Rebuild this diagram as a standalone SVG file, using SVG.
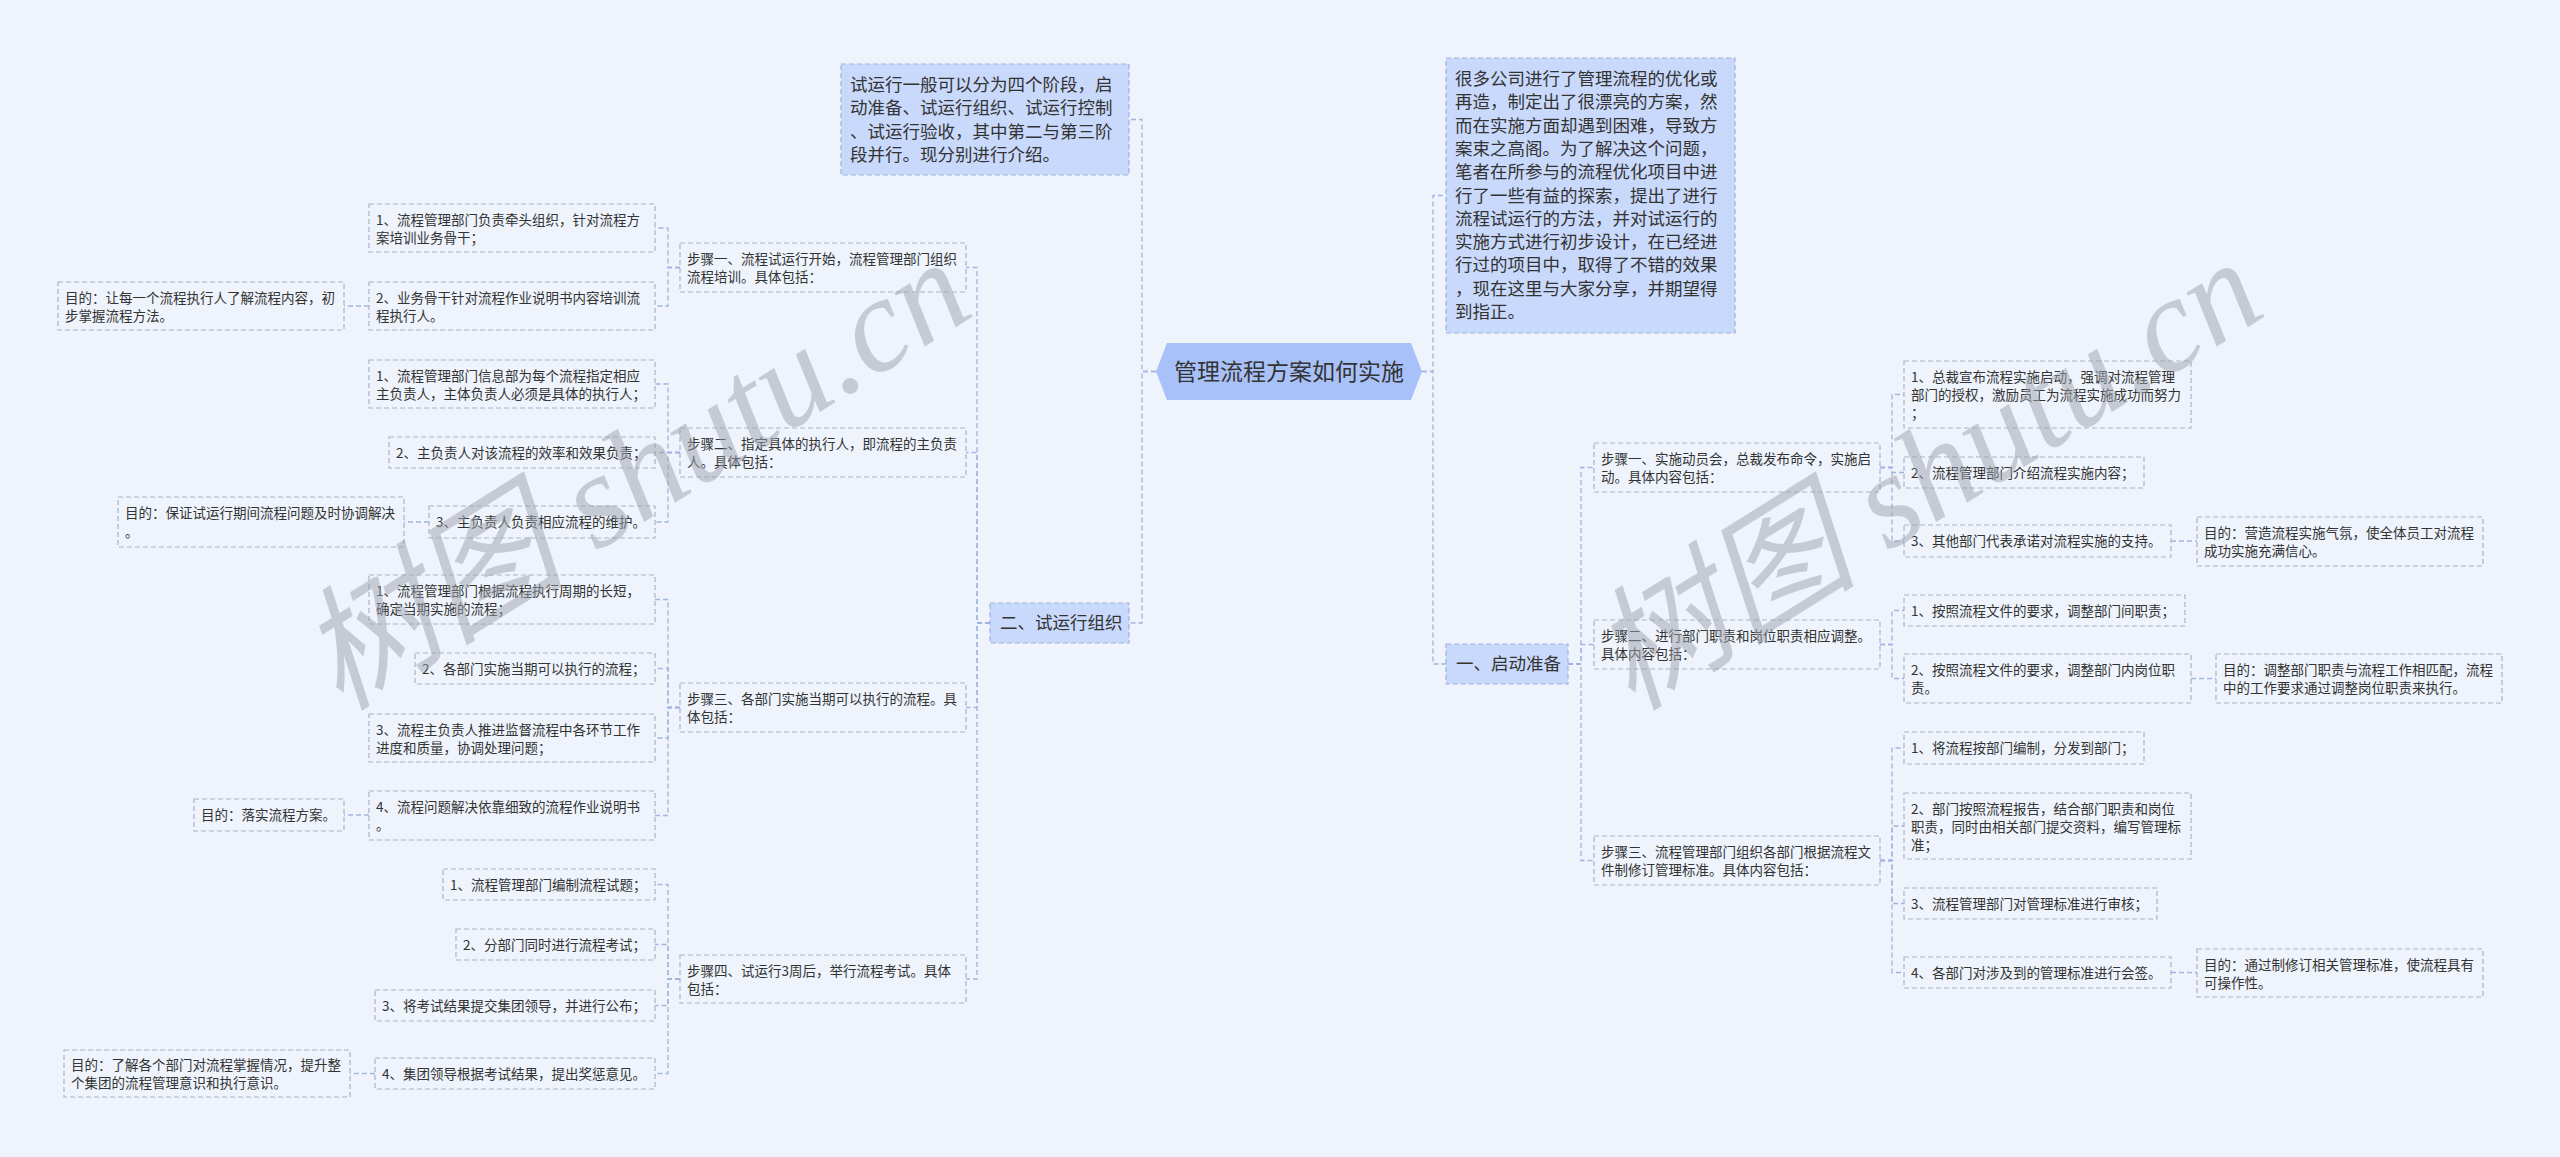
<svg xmlns="http://www.w3.org/2000/svg" width="2560" height="1157" viewBox="0 0 2560 1157">
<style>
.bg{fill:#eef3fc}
.box{fill:none;stroke:#aab4c9;stroke-width:1.2;stroke-dasharray:5 3}
.hl{fill:#c9d9fb;stroke:#9fb3e0;stroke-width:1.2;stroke-dasharray:5 3}
.root{fill:#a8c1f8}
.t{font-family:"Noto Sans CJK SC","Noto Sans",sans-serif;font-size:13.5px;fill:#333}
.tl{font-family:"Noto Sans CJK SC","Noto Sans",sans-serif;font-size:17.5px;fill:#333}
.tr{font-family:"Noto Sans CJK SC","Noto Sans",sans-serif;font-size:23px;fill:#333}
.c{fill:none;stroke:#a2b4e0;stroke-width:1.3;stroke-dasharray:5 3}
.wm{font-family:"Liberation Serif","Noto Sans CJK SC",serif;font-style:italic;font-size:134px;fill:#9ea3ad;opacity:0.5}
</style>
<rect class="bg" x="0" y="0" width="2560" height="1157"/>

<g id="connectors">
<path class="c" d="M1156,371.5 H1142 V119.5 H1129"/>
<path class="c" d="M1156,371.5 H1142 V623 H1129"/>
<path class="c" d="M990,623 H977 V267.5 H966"/>
<path class="c" d="M990,623 H977 V452.5 H966"/>
<path class="c" d="M990,623 H977 V707.5 H966"/>
<path class="c" d="M990,623 H977 V979 H966"/>
<path class="c" d="M680,267.5 H668 V228 H655"/>
<path class="c" d="M680,267.5 H668 V306 H655"/>
<path class="c" d="M680,452.5 H668 V384 H655"/>
<path class="c" d="M680,452.5 H668 V452.5 H655"/>
<path class="c" d="M680,452.5 H668 V522 H655"/>
<path class="c" d="M680,707.5 H668 V599.5 H655"/>
<path class="c" d="M680,707.5 H668 V668.5 H655"/>
<path class="c" d="M680,707.5 H668 V738 H655"/>
<path class="c" d="M680,707.5 H668 V815.5 H655"/>
<path class="c" d="M680,979 H668 V884.5 H655"/>
<path class="c" d="M680,979 H668 V944.5 H655"/>
<path class="c" d="M680,979 H668 V1005.5 H655"/>
<path class="c" d="M680,979 H668 V1073.5 H655"/>
<path class="c" d="M369,306 H344"/>
<path class="c" d="M429,522 H404"/>
<path class="c" d="M369,815 H344"/>
<path class="c" d="M375,1073.5 H350"/>
<path class="c" d="M1422,371.5 H1433 V195.5 H1446"/>
<path class="c" d="M1422,371.5 H1433 V664 H1446"/>
<path class="c" d="M1568,664 H1581 V467.5 H1594"/>
<path class="c" d="M1568,664 H1581 V644.5 H1594"/>
<path class="c" d="M1568,664 H1581 V860.5 H1594"/>
<path class="c" d="M1880,467.5 H1892 V394.5 H1904"/>
<path class="c" d="M1880,467.5 H1892 V472.5 H1904"/>
<path class="c" d="M1880,467.5 H1892 V541 H1904"/>
<path class="c" d="M1880,644.5 H1892 V610.5 H1904"/>
<path class="c" d="M1880,644.5 H1892 V678.5 H1904"/>
<path class="c" d="M1880,860.5 H1892 V748 H1904"/>
<path class="c" d="M1880,860.5 H1892 V826 H1904"/>
<path class="c" d="M1880,860.5 H1892 V903.5 H1904"/>
<path class="c" d="M1880,860.5 H1892 V972.5 H1904"/>
<path class="c" d="M2171,541 H2197"/>
<path class="c" d="M2191,678.5 H2216"/>
<path class="c" d="M2171,972.5 H2197"/>
</g>

<g id="root">
<polygon class="root" points="1156,371.5 1167,343 1411,343 1422,371.5 1411,400 1167,400"/>
<text class="tr" x="1289" y="379.5" text-anchor="middle">管理流程方案如何实施</text>
</g>

<g id="intro-left">
<rect class="hl" x="841" y="64" width="288" height="111"/>
<text class="tl"><tspan x="850" y="91">试运行一般可以分为四个阶段，启</tspan><tspan x="850" y="114.3">动准备、试运行组织、试运行控制</tspan><tspan x="850" y="137.6">、试运行验收，其中第二与第三阶</tspan><tspan x="850" y="161">段并行。现分别进行介绍。</tspan></text>
</g>

<g id="intro-right">
<rect class="hl" x="1446" y="58" width="289" height="275"/>
<text class="tl"><tspan x="1455" y="85">很多公司进行了管理流程的优化或</tspan><tspan x="1455" y="108.3">再造，制定出了很漂亮的方案，然</tspan><tspan x="1455" y="131.6">而在实施方面却遇到困难，导致方</tspan><tspan x="1455" y="154.9">案束之高阁。为了解决这个问题，</tspan><tspan x="1455" y="178.2">笔者在所参与的流程优化项目中进</tspan><tspan x="1455" y="201.5">行了一些有益的探索，提出了进行</tspan><tspan x="1455" y="224.8">流程试运行的方法，并对试运行的</tspan><tspan x="1455" y="248.1">实施方式进行初步设计，在已经进</tspan><tspan x="1455" y="271.4">行过的项目中，取得了不错的效果</tspan><tspan x="1455" y="294.7">，现在这里与大家分享，并期望得</tspan><tspan x="1455" y="318">到指正。</tspan></text>
</g>

<g id="branch-2">
<rect class="hl" x="990" y="603" width="139" height="40"/>
<text class="tl" x="1000" y="629">二、试运行组织</text>
</g>

<g id="branch-1">
<rect class="hl" x="1446" y="644" width="122" height="40"/>
<text class="tl" x="1456" y="670">一、启动准备</text>
</g>

<g id="step-l1">
<rect class="box" x="680" y="243" width="286" height="49"/>
<text class="t"><tspan x="687" y="264">步骤一、流程试运行开始，流程管理部门组织</tspan><tspan x="687" y="282">流程培训。具体包括：</tspan></text>
</g>
<g id="step-l2">
<rect class="box" x="680" y="428" width="286" height="49"/>
<text class="t"><tspan x="687" y="449">步骤二、指定具体的执行人，即流程的主负责</tspan><tspan x="687" y="467">人。具体包括：</tspan></text>
</g>
<g id="step-l3">
<rect class="box" x="680" y="683" width="286" height="49"/>
<text class="t"><tspan x="687" y="704">步骤三、各部门实施当期可以执行的流程。具</tspan><tspan x="687" y="722">体包括：</tspan></text>
</g>
<g id="step-l4">
<rect class="box" x="680" y="955" width="286" height="48"/>
<text class="t"><tspan x="687" y="976">步骤四、试运行3周后，举行流程考试。具体</tspan><tspan x="687" y="994">包括：</tspan></text>
</g>

<g id="l1a">
<rect class="box" x="369" y="204" width="286" height="48"/>
<text class="t"><tspan x="376" y="225">1、流程管理部门负责牵头组织，针对流程方</tspan><tspan x="376" y="243">案培训业务骨干；</tspan></text>
</g>
<g id="l1b">
<rect class="box" x="369" y="282" width="286" height="48"/>
<text class="t"><tspan x="376" y="303">2、业务骨干针对流程作业说明书内容培训流</tspan><tspan x="376" y="321">程执行人。</tspan></text>
</g>
<g id="p1">
<rect class="box" x="58" y="282" width="286" height="48"/>
<text class="t"><tspan x="65" y="303">目的：让每一个流程执行人了解流程内容，初</tspan><tspan x="65" y="321">步掌握流程方法。</tspan></text>
</g>
<g id="l2a">
<rect class="box" x="369" y="360" width="286" height="48"/>
<text class="t"><tspan x="376" y="381">1、流程管理部门信息部为每个流程指定相应</tspan><tspan x="376" y="399">主负责人，主体负责人必须是具体的执行人；</tspan></text>
</g>
<g id="l2b">
<rect class="box" x="389" y="437" width="266" height="31"/>
<text class="t" x="396" y="457.5">2、主负责人对该流程的效率和效果负责；</text>
</g>
<g id="l2c">
<rect class="box" x="429" y="506" width="226" height="32"/>
<text class="t" x="436" y="527">3、主负责人负责相应流程的维护。</text>
</g>
<g id="p2">
<rect class="box" x="118" y="497" width="286" height="50"/>
<text class="t"><tspan x="125" y="518">目的：保证试运行期间流程问题及时协调解决</tspan><tspan x="125" y="537">。</tspan></text>
</g>
<g id="l3a">
<rect class="box" x="369" y="575" width="286" height="49"/>
<text class="t"><tspan x="376" y="596">1、流程管理部门根据流程执行周期的长短，</tspan><tspan x="376" y="614">确定当期实施的流程；</tspan></text>
</g>
<g id="l3b">
<rect class="box" x="415" y="653" width="240" height="31"/>
<text class="t" x="422" y="673.5">2、各部门实施当期可以执行的流程；</text>
</g>
<g id="l3c">
<rect class="box" x="369" y="714" width="286" height="48"/>
<text class="t"><tspan x="376" y="735">3、流程主负责人推进监督流程中各环节工作</tspan><tspan x="376" y="753">进度和质量，协调处理问题；</tspan></text>
</g>
<g id="l3d">
<rect class="box" x="369" y="791" width="286" height="49"/>
<text class="t"><tspan x="376" y="812">4、流程问题解决依靠细致的流程作业说明书</tspan><tspan x="376" y="830">。</tspan></text>
</g>
<g id="p3">
<rect class="box" x="194" y="799" width="150" height="32"/>
<text class="t" x="201" y="820">目的：落实流程方案。</text>
</g>
<g id="l4a">
<rect class="box" x="443" y="869" width="212" height="31"/>
<text class="t" x="450" y="889.5">1、流程管理部门编制流程试题；</text>
</g>
<g id="l4b">
<rect class="box" x="456" y="929" width="199" height="31"/>
<text class="t" x="463" y="949.5">2、分部门同时进行流程考试；</text>
</g>
<g id="l4c">
<rect class="box" x="375" y="990" width="280" height="31"/>
<text class="t" x="382" y="1010.5">3、将考试结果提交集团领导，并进行公布；</text>
</g>
<g id="l4d">
<rect class="box" x="375" y="1058" width="280" height="31"/>
<text class="t" x="382" y="1078.5">4、集团领导根据考试结果，提出奖惩意见。</text>
</g>
<g id="p4">
<rect class="box" x="64" y="1050" width="286" height="47"/>
<text class="t"><tspan x="71" y="1070">目的：了解各个部门对流程掌握情况，提升整</tspan><tspan x="71" y="1088">个集团的流程管理意识和执行意识。</tspan></text>
</g>

<g id="step-r1">
<rect class="box" x="1594" y="443" width="286" height="49"/>
<text class="t"><tspan x="1601" y="464">步骤一、实施动员会，总裁发布命令，实施启</tspan><tspan x="1601" y="482">动。具体内容包括：</tspan></text>
</g>
<g id="step-r2">
<rect class="box" x="1594" y="620" width="286" height="49"/>
<text class="t"><tspan x="1601" y="641">步骤二、进行部门职责和岗位职责相应调整。</tspan><tspan x="1601" y="659">具体内容包括：</tspan></text>
</g>
<g id="step-r3">
<rect class="box" x="1594" y="836" width="286" height="49"/>
<text class="t"><tspan x="1601" y="857">步骤三、流程管理部门组织各部门根据流程文</tspan><tspan x="1601" y="875">件制修订管理标准。具体内容包括：</tspan></text>
</g>

<g id="r1a">
<rect class="box" x="1904" y="361" width="287" height="67"/>
<text class="t"><tspan x="1911" y="382">1、总裁宣布流程实施启动，强调对流程管理</tspan><tspan x="1911" y="400">部门的授权，激励员工为流程实施成功而努力</tspan><tspan x="1911" y="418">；</tspan></text>
</g>
<g id="r1b">
<rect class="box" x="1904" y="457" width="240" height="31"/>
<text class="t" x="1911" y="477.5">2、流程管理部门介绍流程实施内容；</text>
</g>
<g id="r1c">
<rect class="box" x="1904" y="525" width="267" height="32"/>
<text class="t" x="1911" y="546">3、其他部门代表承诺对流程实施的支持。</text>
</g>
<g id="rp1">
<rect class="box" x="2197" y="517" width="286" height="49"/>
<text class="t"><tspan x="2204" y="538">目的：营造流程实施气氛，使全体员工对流程</tspan><tspan x="2204" y="556">成功实施充满信心。</tspan></text>
</g>
<g id="r2a">
<rect class="box" x="1904" y="595" width="281" height="31"/>
<text class="t" x="1911" y="615.5">1、按照流程文件的要求，调整部门间职责；</text>
</g>
<g id="r2b">
<rect class="box" x="1904" y="654" width="287" height="49"/>
<text class="t"><tspan x="1911" y="675">2、按照流程文件的要求，调整部门内岗位职</tspan><tspan x="1911" y="693">责。</tspan></text>
</g>
<g id="rp2">
<rect class="box" x="2216" y="654" width="286" height="49"/>
<text class="t"><tspan x="2223" y="675">目的：调整部门职责与流程工作相匹配，流程</tspan><tspan x="2223" y="693">中的工作要求通过调整岗位职责来执行。</tspan></text>
</g>
<g id="r3a">
<rect class="box" x="1904" y="732" width="240" height="32"/>
<text class="t" x="1911" y="753">1、将流程按部门编制，分发到部门；</text>
</g>
<g id="r3b">
<rect class="box" x="1904" y="793" width="287" height="66"/>
<text class="t"><tspan x="1911" y="814">2、部门按照流程报告，结合部门职责和岗位</tspan><tspan x="1911" y="832">职责，同时由相关部门提交资料，编写管理标</tspan><tspan x="1911" y="850">准；</tspan></text>
</g>
<g id="r3c">
<rect class="box" x="1904" y="888" width="253" height="31"/>
<text class="t" x="1911" y="908.5">3、流程管理部门对管理标准进行审核；</text>
</g>
<g id="r3d">
<rect class="box" x="1904" y="957" width="267" height="31"/>
<text class="t" x="1911" y="977.5">4、各部门对涉及到的管理标准进行会签。</text>
</g>
<g id="rp3">
<rect class="box" x="2197" y="949" width="286" height="48"/>
<text class="t"><tspan x="2204" y="970">目的：通过制修订相关管理标准，使流程具有</tspan><tspan x="2204" y="988">可操作性。</tspan></text>
</g>

<g id="watermarks">
<text class="wm" transform="translate(340,712) rotate(-32)">树图 shutu.cn</text>
<text class="wm" transform="translate(1632,712) rotate(-32)">树图 shutu.cn</text>
</g>
</svg>
